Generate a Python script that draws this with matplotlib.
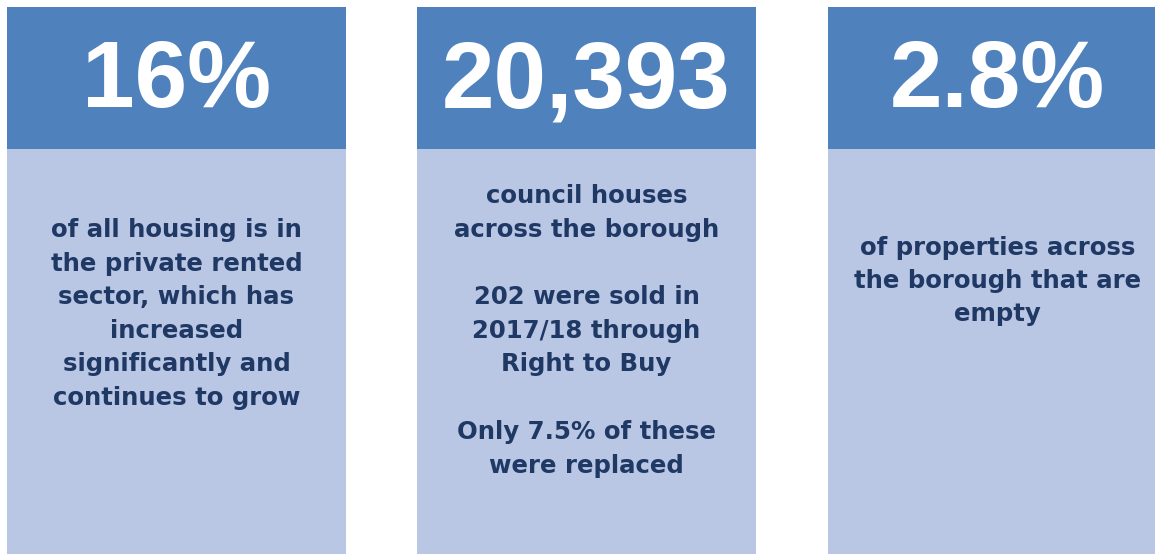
# ── IMPORTS ──────────────────────────────────────────────
import matplotlib
matplotlib.use("Agg")
import matplotlib.pyplot as plt
from matplotlib.patches import Rectangle
from matplotlib import font_manager

# ── DATA ─────────────────────────────────────────────────
# headline figure for each card
headlines = ["16%", "20,393", "2.8%"]

# description lines under each headline ("" = paragraph gap)
card1_lines = ["of all housing is in", "the private rented", "sector, which has",
               "increased", "significantly and", "continues to grow"]
card2_lines = ["council houses", "across the borough", "",
               "202 were sold in", "2017/18 through", "Right to Buy", "",
               "Only 7.5% of these", "were replaced"]
card3_lines = ["of properties across", "the borough that are", "empty"]
descriptions = [card1_lines, card2_lines, card3_lines]

# ── FONTS ────────────────────────────────────────────────
# pick the regular-width Liberation Sans Bold file (not the Narrow one)
head_font = None
for f in font_manager.findSystemFonts():
    name = f.split("/")[-1]
    if name == "LiberationSans-Bold.ttf":
        head_font = font_manager.FontProperties(fname=f)
        break
if head_font is None:
    head_font = font_manager.FontProperties(family="DejaVu Sans", weight="bold")

# ── LAYOUT / STYLE ───────────────────────────────────────
W, H = 1155, 554
card_left = [7, 417, 828]
card_width = 339
card_top = 7
header_bottom = 149
body_first_baseline = [237, 203, 255]
line_step = [33.5, 33.7, 33]

header_col = "#4f81bd"
body_col = "#b9c7e5"
text_col = "#1f3864"

fig = plt.figure(figsize=(W / 100, H / 100), dpi=100)
ax = fig.add_axes([0, 0, 1, 1])
ax.set_xlim(0, W)
ax.set_ylim(H, 0)
ax.axis("off")

for i in range(3):
    x0 = card_left[i]
    cx = x0 + card_width / 2
    # card body + header
    ax.add_patch(Rectangle((x0, header_bottom), card_width, H - header_bottom + 10,
                           facecolor=body_col, edgecolor="none"))
    ax.add_patch(Rectangle((x0, card_top), card_width, header_bottom - card_top,
                           facecolor=header_col, edgecolor="none"))
    ax.text(cx, 107, headlines[i], ha="center", va="baseline", color="white",
            fontproperties=head_font, fontsize=68)
    # description text, one line at a time
    for j, line in enumerate(descriptions[i]):
        if line == "":
            continue
        ax.text(cx, body_first_baseline[i] + j * line_step[i], line,
                ha="center", va="baseline", color=text_col,
                fontsize=17.6, fontweight="bold", family="DejaVu Sans")

plt.savefig("out.png", dpi=100)
